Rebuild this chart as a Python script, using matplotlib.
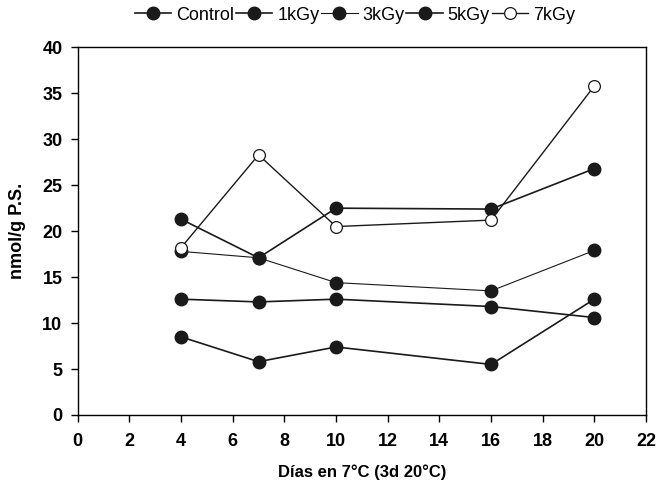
import matplotlib
matplotlib.use("Agg")
import matplotlib.pyplot as plt

plt.rcParams['font.family'] = ['Liberation Sans', 'DejaVu Sans']

days = [4, 7, 10, 16, 20]
control = [8.5, 5.8, 7.4, 5.5, 12.6]
kgy1 = [12.6, 12.3, 12.6, 11.8, 10.6]
kgy3 = [17.8, 17.1, 14.4, 13.5, 17.9]
kgy5 = [21.3, 17.1, 22.5, 22.4, 26.8]
kgy7 = [18.2, 28.3, 20.5, 21.2, 35.8]
labels = ['Control', '1kGy', '3kGy', '5kGy', '7kGy']

fig = plt.figure(figsize=(6.63, 4.86), dpi=100)
ax = fig.add_axes([0.1172, 0.1461, 0.8572, 0.7566])

series = [control, kgy1, kgy3, kgy5, kgy7]
lws = [1.2, 1.2, 0.8, 1.2, 1.0]
for i, (vals, lab) in enumerate(zip(series, labels)):
    if lab == '7kGy':
        ax.plot(days, vals, '-', color='#1a1a1a', lw=lws[i], marker='o', ms=8.5,
                mfc='white', mec='#1a1a1a', mew=0.9, label=lab, zorder=3)
    else:
        ax.plot(days, vals, '-', color='#1a1a1a', lw=lws[i], marker='o', ms=9,
                mfc='#1a1a1a', mec='#1a1a1a', label=lab, zorder=3)

ax.set_xlim(0, 22)
ax.set_ylim(0, 40)
ax.set_xticks(range(0, 23, 2))
ax.set_yticks(range(0, 41, 5))
ax.tick_params(direction='out', length=5, width=1, labelsize=13)
ax.tick_params(axis='x', pad=8)
ax.tick_params(axis='y', pad=6)
for t in ax.get_xticklabels() + ax.get_yticklabels():
    t.set_fontweight('bold')
for s in ax.spines.values():
    s.set_linewidth(1)
ax.set_xlabel('Días en 7°C (3d 20°C)', fontsize=12, fontweight='bold', labelpad=10)
ax.set_ylabel('nmol/g P.S.', fontsize=13, fontweight='bold', labelpad=12)

ax.legend(loc='center', bbox_to_anchor=(0.488, 1.087), ncol=5, frameon=False,
          fontsize=13, handlelength=2.0, handletextpad=0.28, columnspacing=0.1,
          borderaxespad=0, borderpad=0)

fig.savefig('out.png', dpi=100)
